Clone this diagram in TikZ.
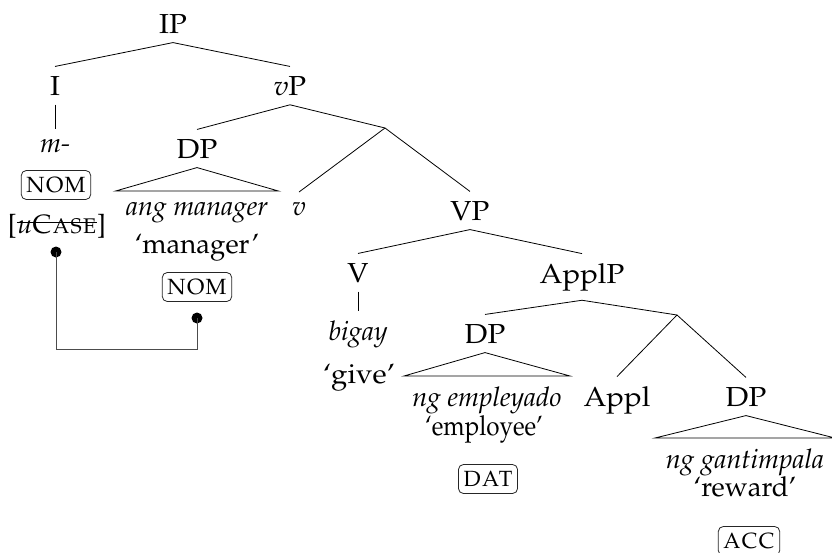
\documentclass[tikz,border=0pt]{standalone}
\usepackage[T1]{fontenc}
\usepackage{mathpazo}
\usepackage{graphicx}
\newcommand{\up}[1]{\scalebox{1.07}[1]{#1}}
\begin{document}
\begin{tikzpicture}[x=1pt,y=-1pt,
  font=\fontsize{27.5}{32}\selectfont,
  lab/.style={anchor=base, inner xsep=2pt, inner ysep=9.5pt, outer sep=0pt},
  it/.style={font=\fontsize{27}{31}\selectfont\itshape},
  leaf/.style={anchor=base, it, inner xsep=0pt, inner ysep=10.5pt, outer sep=0pt},
  casebox/.style={draw=black!85, rounded corners=5pt, line width=0.8pt, inner xsep=4.5pt, minimum height=29pt, anchor=center},
  edge/.style={line width=0.8pt},
  dot/.style={circle, fill=black, inner sep=0pt, minimum size=11pt},
  agree/.style={line width=1pt, draw=black!70},
  bare/.style={inner sep=0pt, outer sep=0pt, font=\fontsize{26.5}{31}\selectfont}]
\useasboundingbox (0,0) rectangle (832,552);
\clip (0,0) rectangle (832,552);
% nodes
\node[lab] (IP) at (173,33) {\up{IP}};
\node[lab] (I) at (55,95) {\up{I}};
\node[lab] (vP) at (290,95) {\up{\textit{v}P}};
\node[lab, it] (m) at (55,152) {m-};
\node[casebox] (nom1) at (56,185) {\textsc{nom}};
\node[bare, anchor=base, inner xsep=0.5pt] (ucase) at (57,233) {\textit{u}\textsc{Case}};
\node[bare, anchor=base east] (lbr) at (ucase.base west) {[};
\node[bare, anchor=base west] (rbr) at (ucase.base east) {]};
\draw[line width=1.1pt] ([yshift=1pt]ucase.west) -- ([yshift=1pt]ucase.east);
\node[lab] (DP1) at (197,158) {\up{DP}};
\coordinate (vbar) at (385,128);
\node[leaf, minimum width=163pt] (angm) at (197,215) {ang manager};
\node[lab] (glm) at (197,253) {`manager'};
\node[casebox] (nom2) at (197,287) {\textsc{nom}};
\node[lab, it] (v) at (299,215) {v};
\node[lab] (VP) at (470,220) {\up{VP}};
\node[lab] (V) at (358,282) {\up{V}};
\node[lab] (ApplP) at (582,283) {\up{ApplP}};
\node[lab, it] (bigay) at (358,340) {bigay};
\node[lab] (give) at (359,383) {\up{`give'}};
\node[lab] (DP2) at (485,343) {\up{DP}};
\coordinate (applbar) at (677,315);
\node[leaf, minimum width=166pt] (empl) at (487,406) {ng empleyado};
\node[lab] (glempl) at (484,435) {\scalebox{0.88}[1]{`employee'}};
\node[casebox] (dat) at (488,479) {\textsc{dat}};
\node[lab] (Appl) at (617,406) {\up{Appl}};
\node[lab] (DP3) at (746,406) {\up{DP}};
\node[leaf, minimum width=180pt] (gant) at (745,468) {ng gantimpala};
\node[lab] (glrew) at (745,496) {`reward'};
\node[casebox] (acc) at (749,541) {\textsc{acc}};
% edges
\draw[edge] (IP.south) -- (I.north);
\draw[edge] (IP.south) -- (vP.north);
\draw[edge] (I.south) -- (m.north);
\draw[edge] (vP.south) -- (DP1.north);
\draw[edge] (vP.south) -- (vbar);
\draw[edge] (vbar) -- (v.north);
\draw[edge] (vbar) -- (VP.north);
\draw[edge] (angm.north west) -- (DP1.south) -- (angm.north east) -- cycle;
\draw[edge] (VP.south) -- (V.north);
\draw[edge] (VP.south) -- (ApplP.north);
\draw[edge] (V.south) -- (bigay.north);
\draw[edge] (ApplP.south) -- (DP2.north);
\draw[edge] (ApplP.south) -- (applbar);
\draw[edge] (empl.north west) -- (DP2.south) -- (empl.north east) -- cycle;
\draw[edge] (applbar) -- (Appl.north);
\draw[edge] (applbar) -- (DP3.north);
\draw[edge] (gant.north west) -- (DP3.south) -- (gant.north east) -- cycle;
% agreement
\node[dot] (d1) at (56,252) {};
\node[dot] (d2) at (197,318) {};
\draw[agree] (d1.center) -- ++(0,97) -| (d2.center);
\end{tikzpicture}
\end{document}
